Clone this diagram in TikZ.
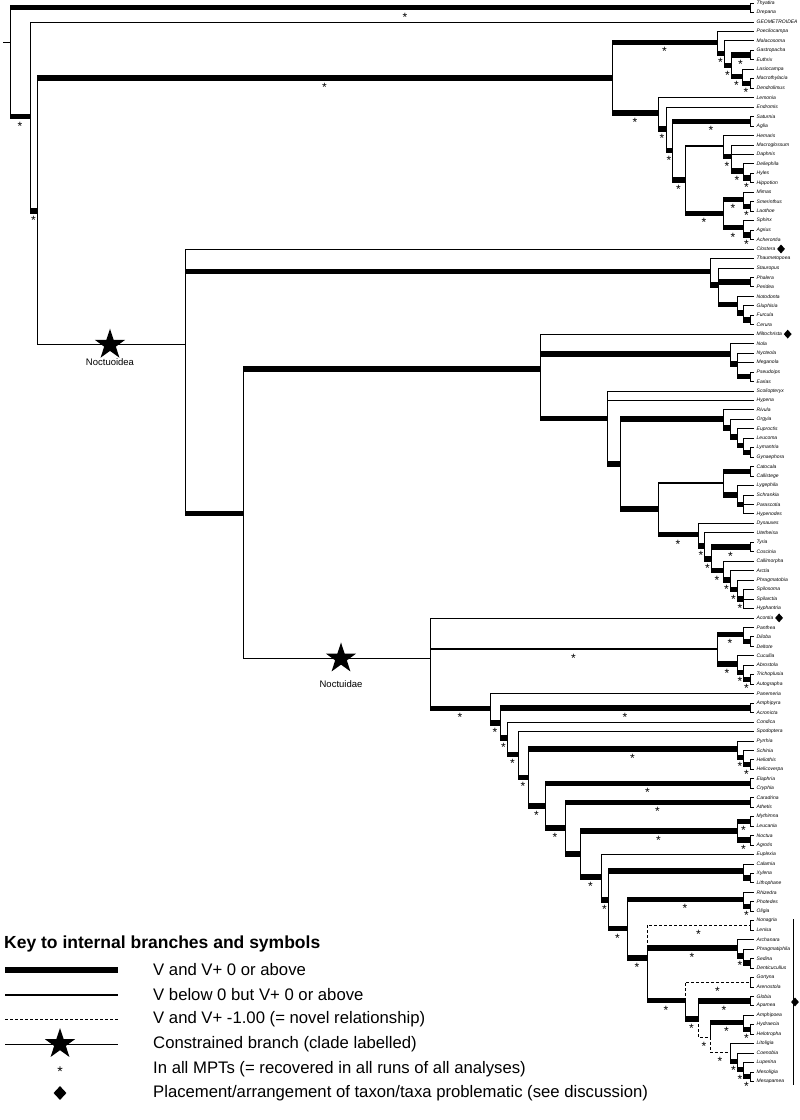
\documentclass[tikz,border=0pt]{standalone}
\usepackage{fontspec}
\setmainfont{Liberation Sans}
\usetikzlibrary{shapes.geometric,calc}
\newcommand\nd[3]{\coordinate (#1) at (#2,{Y(#3)});}
\newcommand\tp[2]{\draw[vl] (#1) -- (#1 |- e#2); \draw[tipl] (#1 |- e#2) -- (e#2);}
\newcommand\bt[2]{\draw[vl] (#1) -- (#1 |- #2); \draw[thk] (#1 |- #2) -- (#2);}
\newcommand\bs[2]{\bt{#1}{#2}\node[ast] at ($(#1 |- #2)!.5!(#2)$) {*};}
\newcommand\bm[2]{\draw[vl] (#1) -- (#1 |- #2); \draw[med] (#1 |- #2) -- (#2);}
\newcommand\bms[2]{\bm{#1}{#2}\node[ast] at ($(#1 |- #2)!.5!(#2)$) {*};}
\newcommand\bn[2]{\draw[vl] (#1) -- (#1 |- #2) -- (#2);}
\newcommand\bds[2]{\draw[dsh] (#1) -- (#1 |- #2) -- (#2);\node[ast] at ($(#1 |- #2)!.5!(#2)$) {*};}
\begin{document}
\begin{tikzpicture}[x=1pt,y=-1pt,
  declare function={Y(\i)=3+(\i-1)*9.46;},
  vl/.style={line width=0.8pt},
  tipl/.style={line width=0.7pt},
  thk/.style={line width=5.5pt},
  med/.style={line width=1.5pt},
  dsh/.style={line width=0.8pt,dash pattern=on 3pt off 2pt},
  ast/.style={font=\fontsize{12}{12}\selectfont,inner sep=0pt,anchor=base,yshift=-13.5pt},
  tax/.style={font=\fontsize{5}{6}\selectfont\itshape,inner sep=0pt,anchor=west},
  bigstar/.style={star,star points=5,star point ratio=2.6,fill=black,minimum size=32pt,inner sep=0pt},
  dia/.style={diamond,fill=black,minimum width=8pt,minimum height=9pt,inner sep=0pt},
  keytext/.style={font=\fontsize{16.7}{18}\selectfont,anchor=west,inner sep=0pt},
  clade/.style={font=\fontsize{9.5}{11}\selectfont,inner sep=0pt}
]
\useasboundingbox (0,0) rectangle (800,1120);
% taxa
\foreach \n [count=\i] in {Thyatira,Drepana,GEOMETROIDEA,Poecilocampa,Malacosoma,Gastropacha,Euthrix,Lasiocampa,Macrothylacia,Dendrolimus,Lemonia,Endromis,Saturnia,Aglia,Hemaris,Macroglossum,Daphnis,Deilephila,Hyles,Hippotion,Mimas,Smerinthus,Laothoe,Sphinx,Agrius,Acherontia,Clostera,Thaumetopoea,Stauropus,Phalera,Peridea,Notodonta,Gluphisia,Furcula,Cerura,Miltochrista,Nola,Nycteola,Meganola,Pseudoips,Earias,Scoliopteryx,Hypena,Rivula,Orgyia,Euproctis,Leucoma,Lymantria,Gynaephora,Catocala,Callistege,Lygephila,Schrankia,Parascotia,Hypenodes,Dysauxes,Utetheisa,Tyria,Coscinia,Callimorpha,Arctia,Phragmatobia,Spilosoma,Spilarctia,Hyphantria,Acontia,Panthea,Diloba,Deltote,Cucullia,Abrostola,Trichoplusia,Autographa,Panemeria,Amphipyra,Acronicta,Condica,Spodoptera,Pyrrhia,Schinia,Heliothis,Helicoverpa,Elaphria,Cryphia,Caradrina,Athetis,Mythimna,Leucania,Noctua,Agrotis,Euplexia,Calamia,Xylena,Lithophane,Rhizedra,Photedes,Oligia,Nonagria,Lenisa,Archanara,Phragmatiphila,Sedina,Denticucullus,Gortyna,Arenostola,Globia,Apamea,Amphipoea,Hydraecia,Helotropha,Litoligia,Coenobia,Luperina,Mesoligia,Mesapamea}
{\coordinate (e\i) at (754,{Y(\i)}); \node[tax] (n\i) at (756.5,{Y(\i)}) {\n};}
% internal nodes
\nd{root}{10}{7.253}\nd{D}{750}{1.5}\nd{A}{30}{13.006}\nd{B}{37}{23.013}
\nd{Bomb}{612}{8.902}\nd{Las}{717}{5.156}\nd{L5}{724}{6.3125}\nd{L4}{731}{7.625}
\nd{L1}{750}{6.5}\nd{L3}{742}{8.75}\nd{L2}{750}{9.5}
\nd{B1}{658}{12.648}\nd{B2}{666}{14.297}\nd{B3}{672}{16.594}\nd{SA}{750}{13.5}
\nd{B4}{685}{19.6875}\nd{Mg}{723}{16.125}\nd{Sp3}{731}{17.25}\nd{Sp2}{743}{18.75}\nd{Sp1}{750}{19.5}
\nd{S5}{723}{23.25}\nd{S1}{743}{21.75}\nd{S2}{750}{22.5}\nd{S4}{743}{24.75}\nd{S3}{750}{25.5}
\nd{N}{185}{37.124}\nd{Noto}{710}{29.396}\nd{T1}{718}{30.792}\nd{PP}{750}{30.5}
\nd{T2}{737}{32.875}\nd{T3}{743}{33.75}\nd{T4}{750}{34.5}
\nd{X}{243}{54.976}\nd{Q}{540}{39.663}\nd{Nol}{730}{38.083}\nd{N1}{737}{39.167}\nd{PE}{750}{40.5}
\nd{R}{607}{44.906}\nd{R2}{620}{49.719}\nd{Lym}{723}{44.969}\nd{Ly1}{730}{45.9375}
\nd{Ly2}{737}{46.875}\nd{Ly3}{743}{47.75}\nd{Ly4}{750}{48.5}
\nd{R3}{658}{54.469}\nd{C1}{723}{51.75}\nd{CC}{750}{50.5}\nd{C2}{737}{53}\nd{C3}{743}{54}
\nd{Ar0}{698}{57.1875}\nd{Ar1}{704}{58.375}\nd{Ar2}{711}{59.75}\nd{TC}{750}{58.5}
\nd{Ar3}{723}{61}\nd{Ar4}{730}{62}\nd{Ar5}{737}{63}\nd{Ar6}{743}{64}
\nd{Nd}{430}{70.289}\nd{P}{717}{69.3125}\nd{P1}{743}{67.75}\nd{DD}{750}{68.5}
\nd{P2}{737}{70.875}\nd{P3}{743}{71.75}\nd{P4}{750}{72.5}
\nd{Bk1}{490}{75.554}\nd{Bk1b}{500}{77.109}\nd{AA}{750}{75.5}\nd{Bk2}{507}{78.717}
\nd{Bk3}{518}{80.434}\nd{Bk4}{528}{82.869}\nd{H1}{737}{79.875}\nd{H2}{743}{80.75}\nd{H3}{750}{81.5}
\nd{Bk5}{545}{85.8625}\nd{EC}{750}{83.5}\nd{Bk6}{565}{88.225}\nd{CA}{750}{85.5}
\nd{Bk7}{580}{90.95}\nd{MN}{737}{88.5}\nd{MyL}{750}{87.5}\nd{NoA}{750}{89.5}
\nd{E}{601}{93.3995}\nd{F}{608}{95.799}\nd{CXL}{743}{92.75}\nd{XL}{750}{93.5}
\nd{G}{627}{98.848}\nd{RPO}{743}{95.75}\nd{PO}{750}{96.5}
\nd{H}{647}{101.945}\nd{NL}{750}{98.5}\nd{K1}{737}{100.875}\nd{K2}{743}{101.75}\nd{K3}{750}{102.5}
\nd{M}{685}{106.461}\nd{GA}{750}{104.5}\nd{Yn}{698}{108.422}\nd{GlAp}{750}{106.5}
\nd{Z}{710}{110.344}\nd{Ap2}{743}{108.75}\nd{Ap1}{750}{109.5}
\nd{Lu0}{730}{111.9375}\nd{Lu1}{737}{112.875}\nd{Lu2}{743}{113.75}\nd{Lu3}{750}{114.5}
% root and stem
\coordinate (stem) at (3,42);
\draw[vl] (stem) -- (root |- stem);
\draw[vl] (root) -- (root |- D); \draw[thk] (root |- D) -- (D); \node[ast] at (405,{Y(1.5)}) {*};
\bs{root}{A}
\tp{D}{1}\tp{D}{2}\tp{A}{3}
\bs{A}{B}\bs{B}{Bomb}\bn{B}{N}
% Bombycoidea
\bs{Bomb}{Las}\bs{Bomb}{B1}
\tp{Las}{4}\bs{Las}{L5}\tp{L5}{5}\bs{L5}{L4}
\bs{L4}{L1}\bs{L4}{L3}\tp{L1}{6}\tp{L1}{7}
\tp{L3}{8}\bs{L3}{L2}\tp{L2}{9}\tp{L2}{10}
\tp{B1}{11}\bs{B1}{B2}\tp{B2}{12}\bs{B2}{B3}
\bs{B3}{SA}\bs{B3}{B4}\tp{SA}{13}\tp{SA}{14}
\bm{B4}{Mg}\bs{B4}{S5}
\tp{Mg}{15}\bs{Mg}{Sp3}
\tp{Sp3}{16}\tp{Sp3}{17}\bs{Sp3}{Sp2}
\tp{Sp2}{18}\bs{Sp2}{Sp1}\tp{Sp1}{19}\tp{Sp1}{20}
\bs{S5}{S1}\bs{S5}{S4}
\tp{S1}{21}\bs{S1}{S2}\tp{S2}{22}\tp{S2}{23}
\tp{S4}{24}\bs{S4}{S3}\tp{S3}{25}\tp{S3}{26}
% Noctuoidea
\tp{N}{27}\bt{N}{Noto}\bt{N}{X}
\tp{Noto}{28}\bt{Noto}{T1}
\tp{T1}{29}\bt{T1}{PP}\bt{T1}{T2}\tp{PP}{30}\tp{PP}{31}
\tp{T2}{32}\bt{T2}{T3}\tp{T3}{33}\bt{T3}{T4}\tp{T4}{34}\tp{T4}{35}
\bt{X}{Q}\bn{X}{Nd}
\tp{Q}{36}\bt{Q}{Nol}\bt{Q}{R}
\tp{Nol}{37}\bt{Nol}{N1}\tp{N1}{38}\tp{N1}{39}\bt{N1}{PE}\tp{PE}{40}\tp{PE}{41}
\tp{R}{42}\tp{R}{43}\bt{R}{R2}
\bt{R2}{Lym}\bt{R2}{R3}
\tp{Lym}{44}\bt{Lym}{Ly1}\tp{Ly1}{45}\bt{Ly1}{Ly2}\tp{Ly2}{46}\bt{Ly2}{Ly3}
\tp{Ly3}{47}\bt{Ly3}{Ly4}\tp{Ly4}{48}\tp{Ly4}{49}
\bm{R3}{C1}\bs{R3}{Ar0}
\bt{C1}{CC}\bt{C1}{C2}\tp{CC}{50}\tp{CC}{51}
\tp{C2}{52}\bt{C2}{C3}\tp{C3}{53}\tp{C3}{54}\tp{C3}{55}
\tp{Ar0}{56}\bs{Ar0}{Ar1}\tp{Ar1}{57}\bs{Ar1}{Ar2}
\bs{Ar2}{TC}\bs{Ar2}{Ar3}\tp{TC}{58}\tp{TC}{59}
\tp{Ar3}{60}\bs{Ar3}{Ar4}\tp{Ar4}{61}\bs{Ar4}{Ar5}
\tp{Ar5}{62}\bs{Ar5}{Ar6}\tp{Ar6}{63}\tp{Ar6}{64}\tp{Ar6}{65}
% Noctuidae
\tp{Nd}{66}\bms{Nd}{P}\bs{Nd}{Bk1}
\bs{P}{P1}\bs{P}{P2}
\tp{P1}{67}\bt{P1}{DD}\tp{DD}{68}\tp{DD}{69}
\tp{P2}{70}\bs{P2}{P3}\tp{P3}{71}\bs{P3}{P4}\tp{P4}{72}\tp{P4}{73}
\tp{Bk1}{74}\bs{Bk1}{Bk1b}
\bs{Bk1b}{AA}\bs{Bk1b}{Bk2}\tp{AA}{75}\tp{AA}{76}
\tp{Bk2}{77}\bs{Bk2}{Bk3}
\tp{Bk3}{78}\bs{Bk3}{Bk4}
\bs{Bk4}{H1}\bs{Bk4}{Bk5}
\tp{H1}{79}\bs{H1}{H2}\tp{H2}{80}\bs{H2}{H3}\tp{H3}{81}\tp{H3}{82}
\bs{Bk5}{EC}\bs{Bk5}{Bk6}\tp{EC}{83}\tp{EC}{84}
\bs{Bk6}{CA}\bt{Bk6}{Bk7}\tp{CA}{85}\tp{CA}{86}
\bs{Bk7}{MN}\bs{Bk7}{E}
\bs{MN}{MyL}\bs{MN}{NoA}
\tp{MyL}{87}\tp{MyL}{88}\tp{NoA}{89}\tp{NoA}{90}
\tp{E}{91}\bs{E}{F}
\bt{F}{CXL}\bs{F}{G}
\tp{CXL}{92}\bt{CXL}{XL}\tp{XL}{93}\tp{XL}{94}
\bs{G}{RPO}\bs{G}{H}
\tp{RPO}{95}\bs{RPO}{PO}\tp{PO}{96}\tp{PO}{97}
\bds{H}{NL}\bs{H}{K1}\bs{H}{M}
\tp{NL}{98}\tp{NL}{99}
\tp{K1}{100}\bs{K1}{K2}\tp{K2}{101}\bt{K2}{K3}\tp{K3}{102}\tp{K3}{103}
\bds{M}{GA}\bs{M}{Yn}\tp{GA}{104}\tp{GA}{105}
\bs{Yn}{GlAp}\bds{Yn}{Z}\tp{GlAp}{106}\tp{GlAp}{107}
\bs{Z}{Ap2}\bds{Z}{Lu0}
\tp{Ap2}{108}\bs{Ap2}{Ap1}\tp{Ap1}{109}\tp{Ap1}{110}
\tp{Lu0}{111}\bs{Lu0}{Lu1}\tp{Lu1}{112}\bs{Lu1}{Lu2}\tp{Lu2}{113}\bs{Lu2}{Lu3}
\tp{Lu3}{114}\tp{Lu3}{115}
% constrained clades
\node[bigstar] (sN) at (110,{Y(37.124)}) {};
\node[clade] (lN) at (110,362) {Noctuoidea};
\node[bigstar] (sNd) at (341,{Y(70.289)}) {};
\node[clade] (lNd) at (341,684) {Noctuidae};
% problematic taxa
\node[dia] (d27) at ($(n27.east)+(5.5,0)$) {};
\node[dia] (d36) at ($(n36.east)+(5.5,0)$) {};
\node[dia] (d66) at ($(n66.east)+(5.5,0)$) {};
\coordinate (vt) at (793,919); \coordinate (vb) at (793,1085);
\draw[vl] (vt) -- (vb);
\node[dia] (dR) at (795,1002) {};
% key
\node[font=\bfseries\fontsize{17.5}{20}\selectfont,anchor=west,inner sep=0pt] (kt) at (4,944) {Key to internal branches and symbols};
\coordinate (k1a) at (5,970); \coordinate (k1b) at (118,970);
\draw[line width=6pt] (k1a) -- (k1b);
\node[keytext] (kx1) at (153,970) {V and V+ 0 or above};
\coordinate (k2a) at (5,995); \coordinate (k2b) at (118,995);
\draw[line width=2.2pt] (k2a) -- (k2b);
\node[keytext] (kx2) at (153,995) {V below 0 but V+ 0 or above};
\coordinate (k3a) at (5,1019); \coordinate (k3b) at (118,1019);
\draw[dsh] (k3a) -- (k3b);
\node[keytext] (kx3) at (153,1019) {V and V+ -1.00 (= novel relationship)};
\coordinate (k4a) at (5,1044); \coordinate (k4b) at (118,1044);
\draw[vl] (k4a) -- (k4b);
\node[bigstar] (k4s) at (60,1044) {};
\node[keytext] (kx4) at (153,1044) {Constrained branch (clade labelled)};
\node[font=\fontsize{14}{14}\selectfont,inner sep=0pt,anchor=base] (k5s) at (60,1076) {*};
\node[keytext] (kx5) at (153,1069) {In all MPTs (= recovered in all runs of all analyses)};
\node[dia,minimum width=13pt,minimum height=14pt] (k6s) at (60,1093) {};
\node[keytext] (kx6) at (153,1093) {Placement/arrangement of taxon/taxa problematic (see discussion)};
\end{tikzpicture}
\end{document}
